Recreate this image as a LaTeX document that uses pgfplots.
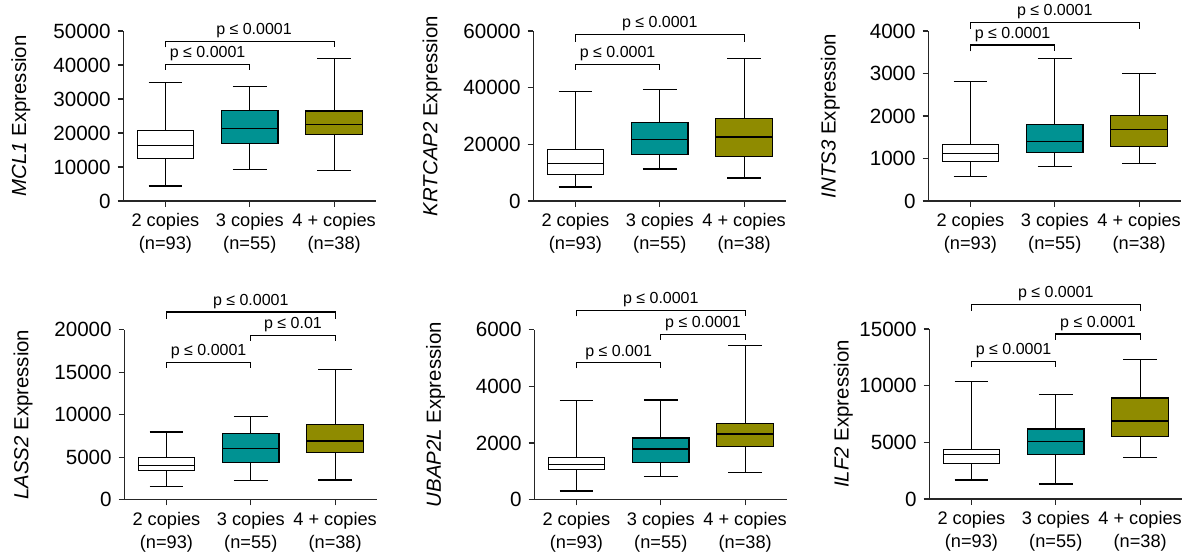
\documentclass[border=0pt]{standalone}
\usepackage{fontspec}
\setmainfont{Liberation Sans}
\usepackage{pgfplots}
\pgfplotsset{compat=1.18}
\usepgfplotslibrary{statistics}
\definecolor{tealbox}{RGB}{0,146,146}
\definecolor{olivebox}{RGB}{143,139,0}
\pgfplotsset{gbox/.style={
  scale only axis, width=126.5pt, height=85pt, anchor=south west,
  xmin=0.5, xmax=3.5, ymin=0, clip=false,
  axis lines*=left, axis line style={black!85, line width=0.6pt},
  tick align=outside, tick style={black!85, line width=0.6pt}, major tick length=2.8pt,
  xtick={1,2,3}, xticklabels={2 copies\\(n=93), 3 copies\\(n=55), 4 + copies\\(n=38)},
  xticklabel style={align=center, font=\fontsize{9.1}{11.5}\selectfont},
  yticklabel style={font=\fontsize{10.3}{12}\selectfont},
  ylabel style={font=\fontsize{10.2}{12}\selectfont, anchor=center},
  scaled y ticks=false,
  /pgf/number format/1000 sep={}, /pgf/number format/assume math mode=true,
  boxplot/draw direction=y,
}}
\newcommand{\bx}[7]{\addplot[draw=black, fill=#7, line width=0.6pt, solid,
  boxplot prepared={draw position=#1, lower whisker=#2, lower quartile=#3, median=#4,
  upper quartile=#5, upper whisker=#6, box extend=0.67, whisker extend=0.4}] coordinates {};}
\newcommand{\brk}[6]{\addplot[black, line width=0.6pt] coordinates {(#1,#4) (#1,#3) (#2,#3) (#2,#4)};
  \node[font=\fontsize{8}{9.5}\selectfont, anchor=base, yshift=3.4pt] at (axis cs:#5,#3) {#6};}
\begin{document}
\begin{tikzpicture}
\path[use as bounding box] (0,0) rectangle (595.5pt,277.5pt);
% MCL1
\begin{axis}[gbox, at={(61.65pt,177pt)}, ymax=50000, ytick={0,10000,...,50000},
  ylabel={\itshape MCL1\upshape{} Expression}, ylabel style={at={(axis description cs:-0.405,0.5)}}]
\bx{1}{4410}{12450}{16370}{20690}{34900}{white}
\bx{2}{9310}{16960}{21370}{26670}{33630}{tealbox}
\bx{3}{9020}{19610}{22550}{26470}{41960}{olivebox}
\brk{1}{2}{40200}{38530}{1.5}{p ≤ 0.0001}
\brk{1}{3}{46860}{45200}{2.05}{p ≤ 0.0001}
\end{axis}
% KRTCAP2
\begin{axis}[gbox, at={(266.65pt,177pt)}, ymax=60000, ytick={0,20000,40000,60000},
  ylabel={\itshape KRTCAP2\upshape{} Expression}, ylabel style={at={(axis description cs:-0.40,0.5)}}]
\bx{1}{4941}{9412}{13176}{18118}{38706}{white}
\bx{2}{11294}{16353}{21765}{27647}{39412}{tealbox}
\bx{3}{8118}{15765}{22588}{29176}{50353}{olivebox}
\brk{1}{2}{48235}{46235}{1.5}{p ≤ 0.0001}
\brk{1}{3}{58706}{56118}{2}{p ≤ 0.0001}
\end{axis}
% INTS3
\begin{axis}[gbox, at={(464.15pt,177pt)}, ymax=4000, ytick={0,1000,...,4000},
  ylabel={\itshape INTS3\upshape{} Expression}, ylabel style={at={(axis description cs:-0.387,0.5)}}]
\bx{1}{578}{922}{1109}{1328}{2812}{white}
\bx{2}{820}{1148}{1406}{1797}{3359}{tealbox}
\bx{3}{883}{1289}{1680}{2008}{2992}{olivebox}
\brk{1}{2}{3672}{3523}{1.5}{p ≤ 0.0001}
\brk{1}{3}{4203}{4047}{2}{p ≤ 0.0001}
\end{axis}
% LASS2
\begin{axis}[gbox, at={(62.15pt,27.65pt)}, ymax=20000, ytick={0,5000,...,20000},
  ylabel={\itshape LASS2\upshape{} Expression}, ylabel style={at={(axis description cs:-0.40,0.5)}}]
\bx{1}{1523}{3438}{4063}{4961}{7969}{white}
\bx{2}{2266}{4375}{5977}{7773}{9766}{tealbox}
\bx{3}{2305}{5547}{6914}{8828}{15352}{olivebox}
\brk{1}{2}{16133}{15508}{1.5}{p ≤ 0.0001}
\brk{2}{3}{19336}{18711}{2.5}{p ≤ 0.01}
\brk{1}{3}{22070}{21289}{2}{p ≤ 0.0001}
\end{axis}
% UBAP2L
\begin{axis}[gbox, at={(267.15pt,27.65pt)}, ymax=6000, ytick={0,2000,4000,6000},
  ylabel={\itshape UBAP2L\upshape{} Expression}, ylabel style={at={(axis description cs:-0.39,0.5)}}]
\bx{1}{308}{1065}{1243}{1503}{3503}{white}
\bx{2}{828}{1302}{1787}{2178}{3515}{tealbox}
\bx{3}{970}{1870}{2320}{2698}{5444}{olivebox}
\brk{1}{2}{4828}{4639}{1.5}{p ≤ 0.001}
\brk{2}{3}{5834}{5645}{2.5}{p ≤ 0.0001}
\brk{1}{3}{6686}{6473}{2}{p ≤ 0.0001}
\end{axis}
% ILF2
\begin{axis}[gbox, at={(464.65pt,28pt)}, ymax=15000, ytick={0,5000,10000,15000},
  ylabel={\itshape ILF2\upshape{} Expression}, ylabel style={at={(axis description cs:-0.34,0.5)}}]
\bx{1}{1683}{3101}{3898}{4341}{10396}{white}
\bx{2}{1329}{3957}{5050}{6173}{9244}{tealbox}
\bx{3}{3633}{5523}{6881}{8919}{12286}{olivebox}
\brk{1}{2}{12109}{11607}{1.5}{p ≤ 0.0001}
\brk{2}{3}{14560}{14029}{2.5}{p ≤ 0.0001}
\brk{1}{3}{17159}{16598}{2}{p ≤ 0.0001}
\end{axis}
\end{tikzpicture}
\end{document}
